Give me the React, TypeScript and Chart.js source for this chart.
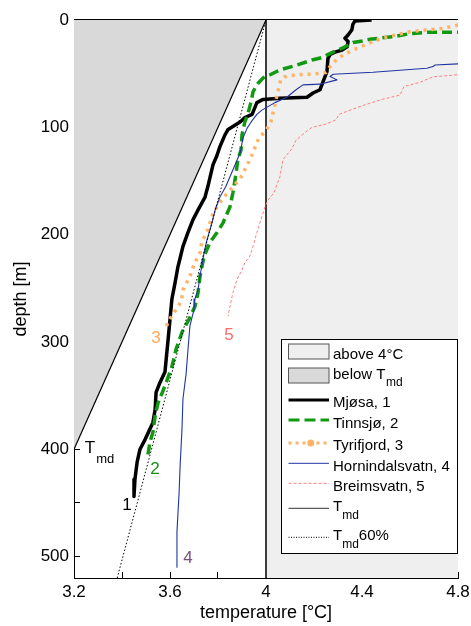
import { useEffect, useRef } from 'react';
import { Chart, registerables } from 'chart.js';

Chart.register(...registerables);

const FONT = '"Liberation Sans", Arial, Helvetica, sans-serif';

// ---- axes ----
const xTickLabels = ['3.2', '3.6', '4', '4.4', '4.8'];
const yTickLabels = ['0', '100', '200', '300', '400', '500'];

// ---- profiles (depth in m, temperature in °C) ----
const mjosaDepth = [0, 1, 4, 9, 14, 17, 20, 25, 28, 30, 32, 36, 48, 58, 65, 68, 72, 73, 74, 77, 88, 91, 95, 102, 107, 118, 126, 135, 155, 165, 177, 186, 198, 211, 222, 230, 245, 260, 279, 298, 328, 338, 347, 363, 375, 391, 400, 412, 428, 444];
const mjosaTemp = [4.44, 4.37, 4.362, 4.358, 4.342, 4.329, 4.342, 4.338, 4.317, 4.288, 4.267, 4.258, 4.254, 4.237, 4.225, 4.196, 4.171, 4.058, 3.988, 3.962, 3.942, 3.912, 3.892, 3.842, 3.829, 3.808, 3.796, 3.779, 3.758, 3.746, 3.717, 3.696, 3.675, 3.654, 3.642, 3.633, 3.621, 3.608, 3.6, 3.592, 3.579, 3.558, 3.542, 3.538, 3.529, 3.496, 3.475, 3.463, 3.454, 3.45];

const tinnDepth = [10.8, 11.3, 11.5, 13, 15, 18, 19.5, 21, 26, 30, 35, 37, 42, 46.5, 51, 54, 59, 62, 67, 76, 87, 95, 107, 121, 130, 149, 161, 174, 189, 198, 207, 220, 239, 254, 267, 279, 291, 307, 323, 341, 357, 369, 384, 393, 405];
const tinnTemp = [4.9, 4.8, 4.671, 4.592, 4.546, 4.433, 4.404, 4.362, 4.321, 4.279, 4.233, 4.196, 4.129, 4.058, 4.017, 3.988, 3.967, 3.958, 3.946, 3.938, 3.925, 3.912, 3.9, 3.896, 3.883, 3.871, 3.862, 3.85, 3.821, 3.796, 3.767, 3.742, 3.725, 3.717, 3.704, 3.679, 3.65, 3.625, 3.608, 3.579, 3.55, 3.538, 3.529, 3.517, 3.508];

const tyriDepth = [3, 4.6, 7.8, 9.3, 10.9, 14, 16.8, 20, 24, 28, 32.6, 37, 43.4, 49, 50.5, 51, 53, 55, 62, 71, 83, 95, 103, 110, 124, 136, 148, 155, 161, 170, 180, 198, 207, 217, 228, 239, 251, 258, 263, 270, 276, 281, 285];
const tyriTemp = [4.9, 4.8, 4.738, 4.67, 4.6, 4.54, 4.49, 4.446, 4.404, 4.363, 4.321, 4.294, 4.267, 4.25, 4.19, 4.128, 4.075, 4.062, 4.055, 4.045, 4.033, 4.02, 4.0, 3.97, 3.945, 3.92, 3.892, 3.865, 3.84, 3.808, 3.78, 3.753, 3.732, 3.725, 3.7, 3.683, 3.655, 3.65, 3.645, 3.625, 3.607, 3.592, 3.586];

const hornDepth = [39.5, 40.9, 41.9, 43.4, 45, 48.7, 50.5, 52.7, 55.8, 57.4, 59.8, 60.5, 65, 72, 77, 84, 88, 95, 101, 110, 124, 137, 146, 155, 165, 177, 189, 205, 217, 239, 251, 260, 270, 285, 307, 330, 353, 381, 416, 440, 477, 510];
const hornTemp = [4.9, 4.8, 4.704, 4.696, 4.67, 4.446, 4.28, 4.267, 4.296, 4.267, 4.225, 4.154, 4.125, 4.087, 4.037, 3.983, 3.962, 3.938, 3.921, 3.904, 3.892, 3.867, 3.85, 3.833, 3.808, 3.788, 3.775, 3.754, 3.742, 3.725, 3.717, 3.704, 3.7, 3.683, 3.675, 3.667, 3.654, 3.65, 3.642, 3.638, 3.629, 3.629];

const breimDepth = [49, 51, 53, 56, 58, 62, 70, 74, 79, 84, 88, 93, 97, 100, 104, 112, 120, 130, 146, 161, 168, 174, 186, 198, 211, 220, 226, 233, 242, 254, 267, 276];
const breimTemp = [4.9, 4.8, 4.696, 4.663, 4.642, 4.575, 4.558, 4.483, 4.413, 4.35, 4.304, 4.292, 4.25, 4.192, 4.167, 4.125, 4.108, 4.071, 4.058, 4.033, 4.008, 3.996, 3.979, 3.962, 3.946, 3.933, 3.912, 3.9, 3.879, 3.862, 3.85, 3.842];

// temperature of maximum density and 60 % of its pressure gradient
const tmdDepth = [400, 0];
const tmdTemp = [3.2, 4.0];
const tmd60Depth = [520, 0];
const tmd60Temp = [3.38, 4.0];

// reference 4 °C line and "above 4°C" region
const fourDepth = [0, 520];
const fourTemp = [4.0, 4.0];
const aboveTemp = [4.0, 4.8];
const aboveDepth = [0, 0];

// curve labels
const curveLabels = ['1', '2', '3', '4', '5'];
const curveLabelTemp = [3.421, 3.5375, 3.542, 3.675, 3.846];
const curveLabelDepth = [452, 418.6, 296.7, 501.4, 294];
const curveLabelColors = ['#000000', '#1a8f1a', '#ffaa55', '#7a4f7a', '#ff6a6a'];

const tmdLabelTemp = 3.245;
const tmdLabelDepth = 399;

const C_MJOSA = '#000000';
const C_TINN = '#119911';
const C_TYRI = '#ffb366';
const C_HORN = '#2035a0';
const C_BREIM = '#ff8080';
const C_ABOVE = '#efefef';
const C_BELOW = '#d9d9d9';

const pts = (t: number[], d: number[]) => t.map((x, i) => ({ x, y: d[i] }));

const overlay = {
  id: 'overlay',
  afterDatasetsDraw(chart: any) {
    const { ctx, chartArea: ca, scales } = chart;
    const xs = scales.x;
    const ys = scales.y;
    ctx.save();
    // top border
    ctx.strokeStyle = '#000';
    ctx.lineWidth = 1;
    ctx.setLineDash([]);
    ctx.beginPath();
    ctx.moveTo(ca.left, Math.round(ca.top) - 0.5);
    ctx.lineTo(ca.right, Math.round(ca.top) - 0.5);
    ctx.stroke();

    // curve labels
    ctx.font = `17px ${FONT}`;
    ctx.textAlign = 'center';
    ctx.textBaseline = 'middle';
    curveLabels.forEach((s, i) => {
      ctx.fillStyle = curveLabelColors[i];
      ctx.fillText(s, xs.getPixelForValue(curveLabelTemp[i]), ys.getPixelForValue(curveLabelDepth[i]));
    });
    // T_md label
    ctx.fillStyle = '#000';
    ctx.textAlign = 'left';
    const tx = xs.getPixelForValue(tmdLabelTemp);
    const ty = ys.getPixelForValue(tmdLabelDepth);
    ctx.font = `17px ${FONT}`;
    ctx.fillText('T', tx, ty);
    const tw = ctx.measureText('T').width;
    ctx.font = `13px ${FONT}`;
    ctx.textBaseline = 'alphabetic';
    ctx.fillText('md', tx + tw + 1, ty + 15);

    // legend
    const W = 177;
    const H = 214;
    const left = ca.right - W;
    const top = ca.bottom - 239;
    ctx.fillStyle = '#fff';
    ctx.fillRect(left, top, W, H);
    ctx.strokeStyle = '#000';
    ctx.lineWidth = 1;
    ctx.strokeRect(Math.round(left) + 0.5, Math.round(top) + 0.5, W - 1, H);

    const sx0 = left + 7.5;
    const sx1 = left + 48;
    const txl = left + 52;
    const big = `15px ${FONT}`;
    const small = `12px ${FONT}`;
    ctx.textAlign = 'left';
    ctx.textBaseline = 'alphabetic';

    // patches
    ctx.strokeStyle = '#555';
    ctx.fillStyle = C_ABOVE;
    ctx.fillRect(sx0, top + 5, sx1 - sx0, 15);
    ctx.strokeRect(sx0, top + 5, sx1 - sx0, 15);
    ctx.fillStyle = C_BELOW;
    ctx.fillRect(sx0, top + 29, sx1 - sx0, 15);
    ctx.strokeRect(sx0, top + 29, sx1 - sx0, 15);
    ctx.fillStyle = '#000';
    ctx.font = big;
    ctx.fillText('above 4°C', txl, top + 19.7);
    ctx.fillText('below T', txl, top + 39.7);
    let w = ctx.measureText('below T').width;
    ctx.font = small;
    ctx.fillText('md', txl + w + 0.5, top + 47);

    const line = (yy: number, color: string, width: number, dash: number[], cap: CanvasLineCap = 'butt') => {
      ctx.save();
      ctx.strokeStyle = color;
      ctx.lineWidth = width;
      ctx.setLineDash(dash);
      ctx.lineCap = cap;
      ctx.beginPath();
      ctx.moveTo(sx0, top + yy);
      ctx.lineTo(sx1, top + yy);
      ctx.stroke();
      ctx.restore();
    };
    line(61, C_MJOSA, 3, []);
    line(81, C_TINN, 3, [11, 5]);
    line(104, C_TYRI, 3, [3, 4]);
    ctx.fillStyle = C_TYRI;
    ctx.beginPath();
    ctx.arc((sx0 + sx1) / 2 + 2, top + 104, 3.5, 0, Math.PI * 2);
    ctx.fill();
    line(124.3, C_HORN, 1, []);
    line(144.3, C_BREIM, 1, [3, 2]);
    line(169.3, '#333', 1, []);
    line(198.3, '#000', 1, [1, 1.5]);

    ctx.fillStyle = '#000';
    ctx.font = big;
    ctx.fillText('Mjøsa, 1', txl, top + 68);
    ctx.fillText('Tinnsjø, 2', txl, top + 88.5);
    ctx.fillText('Tyrifjord, 3', txl, top + 111);
    ctx.fillText('Hornindalsvatn, 4', txl, top + 132);
    ctx.fillText('Breimsvatn, 5', txl, top + 152);
    ctx.fillText('T', txl, top + 171.7);
    w = ctx.measureText('T').width;
    ctx.font = small;
    ctx.fillText('md', txl + w, top + 180);
    ctx.font = big;
    ctx.fillText('T', txl, top + 201);
    ctx.font = small;
    ctx.fillText('md', txl + w, top + 209);
    const mw = ctx.measureText('md').width;
    ctx.font = big;
    ctx.fillText('60%', txl + w + mw, top + 201);

    ctx.restore();
  },
};

export default function App() {
  const ref = useRef<HTMLCanvasElement>(null);
  useEffect(() => {
    if (!ref.current) return;
    const lineDs = (label: string, t: number[], d: number[], color: string, width: number, dash: number[] = [], cap: CanvasLineCap = 'butt') => ({
      label,
      data: pts(t, d),
      showLine: true,
      borderColor: color,
      backgroundColor: color,
      borderWidth: width,
      borderDash: dash,
      borderCapStyle: cap,
      borderJoinStyle: 'round' as const,
      pointRadius: 0,
      pointHoverRadius: 0,
      fill: false,
      tension: 0,
    });
    const datasets: any[] = [
      lineDs('Tmd60%', tmd60Temp, tmd60Depth, '#000', 1, [1.5, 2]),
      lineDs('Tmd', tmdTemp, tmdDepth, '#000', 1.2),
      lineDs('Breimsvatn, 5', breimTemp, breimDepth, C_BREIM, 1, [3, 2]),
      lineDs('Hornindalsvatn, 4', hornTemp, hornDepth, C_HORN, 1.1),
      lineDs('Tyrifjord, 3', tyriTemp, tyriDepth, C_TYRI, 3.5, [3, 5]),
      lineDs('Tinnsjø, 2', tinnTemp, tinnDepth, C_TINN, 3.5, [10, 5]),
      lineDs('Mjøsa, 1', mjosaTemp, mjosaDepth, C_MJOSA, 3.5),
      lineDs('4C', fourTemp, fourDepth, '#222', 1),
      {
        label: 'below Tmd',
        data: pts(tmdTemp, tmdDepth),
        showLine: true,
        borderWidth: 0,
        borderColor: 'rgba(0,0,0,0)',
        backgroundColor: C_BELOW,
        pointRadius: 0,
        fill: { value: 0 },
      },
      {
        label: 'above 4°C',
        data: pts(aboveTemp, aboveDepth),
        showLine: true,
        borderWidth: 0,
        borderColor: 'rgba(0,0,0,0)',
        backgroundColor: C_ABOVE,
        pointRadius: 0,
        fill: { value: 520 },
      },
    ];
    const tickFont = { family: FONT, size: 17 };
    const chart = new Chart(ref.current, {
      type: 'scatter',
      data: { datasets },
      options: {
        animation: false,
        responsive: true,
        maintainAspectRatio: false,
        events: [],
        layout: { autoPadding: false, padding: { left: 0, right: 13, top: 20, bottom: 0 } },
        plugins: { legend: { display: false }, tooltip: { enabled: false } },
        scales: {
          x: {
            type: 'linear',
            min: 3.2,
            max: 4.8,
            afterFit: (s: any) => { s.height = 48; s.paddingLeft = 0; s.paddingRight = 0; },
            ticks: {
              stepSize: 0.2,
              autoSkip: false,
              maxRotation: 0,
              minRotation: 0,
              padding: 10,
              color: '#000',
              font: tickFont,
              callback: (v: any) => {
                const s = String(Math.round(Number(v) * 10) / 10);
                return xTickLabels.includes(s) ? s : '';
              },
            },
            grid: { drawOnChartArea: false, tickLength: -6, color: '#000', lineWidth: 1 },
            border: { color: '#000', width: 1 },
            title: { display: true, text: 'temperature [°C]', color: '#000', font: { family: FONT, size: 18 }, padding: { top: 0, bottom: 2 } },
          },
          y: {
            type: 'linear',
            reverse: true,
            min: 0,
            max: 520,
            afterFit: (s: any) => { s.width = 74; s.paddingTop = 0; s.paddingBottom = 0; },
            ticks: {
              stepSize: 50,
              autoSkip: false,
              padding: 11,
              color: '#000',
              font: tickFont,
              callback: (v: any) => {
                const s = String(Math.round(Number(v)));
                return yTickLabels.includes(s) ? s : '';
              },
            },
            grid: { drawOnChartArea: false, tickLength: -6, color: '#000', lineWidth: 1 },
            border: { color: '#000', width: 1 },
            title: { display: true, text: 'depth [m]', color: '#000', font: { family: FONT, size: 18 }, padding: { top: 10, bottom: 0 } },
          },
        },
      } as any,
      plugins: [overlay],
    });
    return () => chart.destroy();
  }, []);
  return (
    <div style={{ position: 'absolute', left: 0, top: 0, width: 471, height: 626, background: '#fff' }}>
      <canvas ref={ref} />
    </div>
  );
}
